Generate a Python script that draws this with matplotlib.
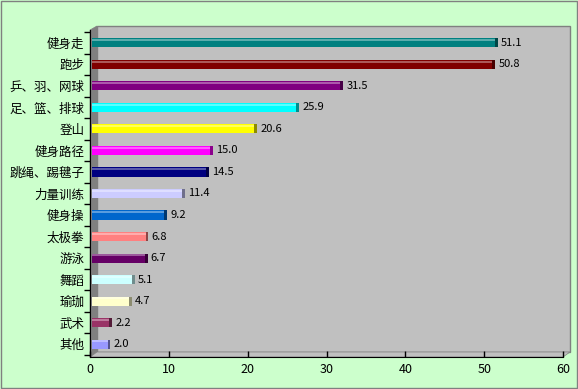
import matplotlib.pyplot as plt
from matplotlib.patches import Polygon, Rectangle
import matplotlib.colors as mcolors

plt.rcParams['font.family'] = ['Noto Sans CJK SC', 'DejaVu Sans']

# 数据（自上而下）
categories = ['健身走', '跑步', '乒、羽、网球', '足、篮、排球', '登山', '健身路径',
              '跳绳、踢毽子', '力量训练', '健身操', '太极拳', '游泳', '舞蹈', '瑜珈', '武术', '其他']
values = [51.1, 50.8, 31.5, 25.9, 20.6, 15.0, 14.5, 11.4, 9.2, 6.8, 6.7, 5.1, 4.7, 2.2, 2.0]
bar_colors = ['#008080', '#800000', '#800080', '#00FFFF', '#FFFF00', '#FF00FF', '#000080',
              '#CCCCFF', '#0066CC', '#FF8080', '#660066', '#CCFFFF', '#FFFFCC', '#993366', '#9999FF']
xticks = [0, 10, 20, 30, 40, 50, 60]

W, H = 578, 389


def fx(x):
    return x / W


def fy(y):
    return 1 - y / H


fig = plt.figure(figsize=(W / 100, H / 100), dpi=100, facecolor='#CCFFCC')

# 外框
fig.patches.append(Rectangle((fx(1), fy(388)), fx(576), 387 / H, transform=fig.transFigure,
                             fill=False, edgecolor='#808080', lw=1, zorder=-2))

# 3D 背景墙、侧墙、底面
x0, x1, y0, y1 = 90, 563, 30, 357   # 前面坐标区
d = 7                                 # 深度偏移
back = Polygon([(fx(x0 + d), fy(y0 - 4)), (fx(x1 + d), fy(y0 - 4)),
                (fx(x1 + d), fy(y1 - 5)), (fx(x0 + d), fy(y1 - 5))],
               closed=True, transform=fig.transFigure, facecolor='#C0C0C0',
               edgecolor='#808080', lw=1, zorder=-2)
side = Polygon([(fx(x0), fy(y0)), (fx(x0 + d), fy(y0 - 4)), (fx(x0 + d), fy(y1 - 5)),
                (fx(x0), fy(y1))], closed=True, transform=fig.transFigure,
               facecolor='#808080', edgecolor='#808080', lw=0.5, zorder=-2)
floor = Polygon([(fx(x0), fy(y1)), (fx(x0 + d), fy(y1 - 5)), (fx(x1 + d), fy(y1 - 5)),
                 (fx(x1), fy(y1))], closed=True, transform=fig.transFigure,
                facecolor='#C0C0C0', edgecolor='#808080', lw=0.5, zorder=-2)
for p in (back, side, floor):
    fig.patches.append(p)

ax = fig.add_axes([fx(x0), fy(y1), (x1 - x0) / W, (y1 - y0) / H])
ax.set_facecolor('none')

n = len(categories)
pos = list(range(n))[::-1]

for yv, v, c in zip(pos, values, bar_colors):
    rgb = mcolors.to_rgb(c)
    dark = tuple(0.55 * ch for ch in rgb)
    light = tuple(ch + (1 - ch) * 0.35 for ch in rgb)
    ax.barh(yv, v, height=0.42, left=0.25, color=c, edgecolor='none', zorder=2)
    ax.barh(yv + 0.13, v, height=0.1, left=0.25, color=light, edgecolor='none', zorder=3)
    ax.barh(yv, 0.35, height=0.42, left=v + 0.25, color=dark, edgecolor='none', zorder=3)
    ax.text(v + 1.0, yv, '%.1f' % v, va='center', ha='left', fontsize=8,
            color='#000000', zorder=4)

ax.set_xlim(0, 60)
ax.set_ylim(-0.6, n - 0.4)
ax.set_xticks(xticks)
ax.set_xticklabels([str(t) for t in xticks], fontsize=9)
ax.set_yticks(pos)
ax.set_yticklabels(categories, fontsize=9)
ax.set_yticks([p + 0.5 for p in range(-1, n)], minor=True)
ax.tick_params(axis='y', which='major', length=0, pad=4)
ax.tick_params(axis='y', which='minor', length=4, direction='out', width=1)
ax.tick_params(axis='x', direction='in', length=4, width=1, pad=4)

for s in ('top', 'right'):
    ax.spines[s].set_visible(False)
ax.spines['left'].set_color('black')
ax.spines['bottom'].set_color('black')

fig.savefig('out.png', dpi=100, facecolor=fig.get_facecolor())
